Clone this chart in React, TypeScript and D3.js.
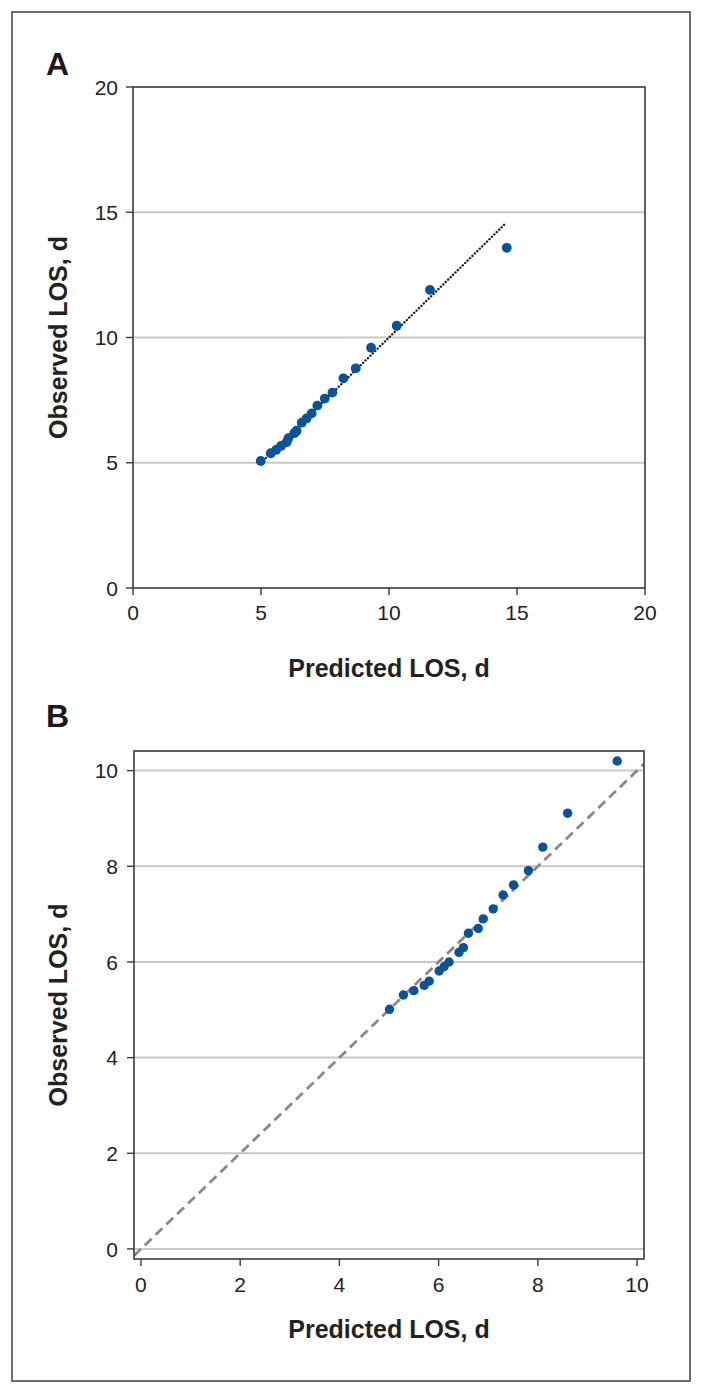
import React from "react";
import * as d3 from "d3";

// Panel A data
const predictedA = [4.99, 5.38, 5.59, 5.78, 6.0, 6.07, 6.3, 6.39, 6.59, 6.78, 6.98, 7.2, 7.49, 7.79, 8.22, 8.7, 9.3, 10.3, 11.6, 14.6];
const observedA = [5.07, 5.38, 5.51, 5.67, 5.82, 5.98, 6.18, 6.28, 6.6, 6.77, 6.97, 7.28, 7.56, 7.8, 8.37, 8.77, 9.59, 10.47, 11.9, 13.58];
const refLineA = [5.0, 14.5];
const ticksA = [0, 5, 10, 15, 20];

// Panel B data
const predictedB = [5.01, 5.29, 5.5, 5.71, 5.81, 6.01, 6.11, 6.21, 6.41, 6.5, 6.6, 6.8, 6.9, 7.1, 7.3, 7.51, 7.81, 8.1, 8.6, 9.6];
const observedB = [5.01, 5.31, 5.4, 5.51, 5.6, 5.81, 5.9, 6.0, 6.2, 6.3, 6.6, 6.7, 6.9, 7.11, 7.4, 7.61, 7.91, 8.4, 9.11, 10.2];
const ticksB = [0, 2, 4, 6, 8, 10];
const domainB = [-0.14, 10.14];
const domainBy = [-0.21, 10.41];

const xTitle = "Predicted LOS, d";
const yTitle = "Observed LOS, d";

const FONT = "'Liberation Sans', Arial, Helvetica, sans-serif";
const POINT = "#0a5299";
const GRID = "#c8c8c8";
const AXIS = "#3a3a3a";

export default function App() {
  const ax = d3.scaleLinear().domain([0, 20]).range([133, 645]);
  const ay = d3.scaleLinear().domain([0, 20]).range([588, 87]);
  const bx = d3.scaleLinear().domain(domainB).range([134, 644]);
  const by = d3.scaleLinear().domain(domainBy).range([1259, 751]);

  const lineA = d3.line<number>().x((d) => ax(d)).y((d) => ay(d));
  const lineB = d3.line<number>().x((d) => bx(d)).y((d) => by(d));

  const [ax0, ax1] = ax.range();
  const [ayB, ayT] = ay.range();
  const [bx0, bx1] = bx.range();
  const [byB, byT] = by.range();

  return (
    <svg
      width={703}
      height={1394}
      style={{ position: "absolute", left: 0, top: 0, background: "#fff" }}
      fontFamily={FONT}
    >
      <rect x={12} y={12} width={678} height={1369} fill="#fff" stroke="#4a4a4a" strokeWidth={1.6} />

      {/* Panel A */}
      <text x={46} y={75} fontSize={32} fontWeight="bold" fill="#1a1a1a">A</text>
      {ticksA.filter((t) => t > 0 && t < 20).map((t) => (
        <line key={"ga" + t} x1={ax0} x2={ax1} y1={ay(t)} y2={ay(t)} stroke={GRID} strokeWidth={2} />
      ))}
      <path d={lineA(refLineA) || ""} fill="none" stroke="#222" strokeWidth={2.4} strokeDasharray="0.1 3.3" strokeLinecap="round" />
      {predictedA.map((p, i) => (
        <circle key={"pa" + i} cx={ax(p)} cy={ay(observedA[i])} r={4.9} fill={POINT} />
      ))}
      <rect x={ax0} y={ayT} width={ax1 - ax0} height={ayB - ayT} fill="none" stroke={AXIS} strokeWidth={1.6} />
      {ticksA.map((t) => (
        <g key={"ya" + t}>
          <line x1={ax0 - 7} x2={ax0} y1={ay(t)} y2={ay(t)} stroke={AXIS} strokeWidth={1.4} />
          <text x={118} y={ay(t)} dy="0.36em" textAnchor="end" fontSize={21} fill="#222">{t}</text>
        </g>
      ))}
      {ticksA.map((t) => (
        <g key={"xa" + t}>
          <line x1={ax(t)} x2={ax(t)} y1={ayB} y2={ayB + 7} stroke={AXIS} strokeWidth={1.4} />
          <text x={ax(t)} y={620} textAnchor="middle" fontSize={21} fill="#222">{t}</text>
        </g>
      ))}
      <text x={(ax0 + ax1) / 2} y={676.5} textAnchor="middle" fontSize={25} fontWeight="bold" fill="#222">{xTitle}</text>
      <text transform={`translate(66.5,${(ayT + ayB) / 2}) rotate(-90)`} textAnchor="middle" fontSize={25} fontWeight="bold" fill="#222">{yTitle}</text>

      {/* Panel B */}
      <text x={46} y={727} fontSize={32} fontWeight="bold" fill="#1a1a1a">B</text>
      {ticksB.map((t) => (
        <line key={"gb" + t} x1={bx0} x2={bx1} y1={by(t)} y2={by(t)} stroke={GRID} strokeWidth={2} />
      ))}
      <defs>
        <clipPath id="clipB">
          <rect x={bx0} y={byT} width={bx1 - bx0} height={byB - byT} />
        </clipPath>
      </defs>
      <path d={lineB(domainB) || ""} fill="none" stroke="#888" strokeWidth={2.8} strokeDasharray="9.5 5.5" clipPath="url(#clipB)" />
      {predictedB.map((p, i) => (
        <circle key={"pb" + i} cx={bx(p)} cy={by(observedB[i])} r={4.7} fill={POINT} />
      ))}
      <rect x={bx0} y={byT} width={bx1 - bx0} height={byB - byT} fill="none" stroke={AXIS} strokeWidth={1.6} />
      {ticksB.map((t) => (
        <g key={"yb" + t}>
          <line x1={bx0 - 7} x2={bx0} y1={by(t)} y2={by(t)} stroke={AXIS} strokeWidth={1.4} />
          <text x={118} y={by(t)} dy="0.36em" textAnchor="end" fontSize={21} fill="#222">{t}</text>
        </g>
      ))}
      {ticksB.map((t) => (
        <g key={"xb" + t}>
          <line x1={bx(t)} x2={bx(t)} y1={byB} y2={byB + 7} stroke={AXIS} strokeWidth={1.4} />
          <text x={bx(t)} y={1292} textAnchor="middle" fontSize={21} fill="#222">{t}</text>
        </g>
      ))}
      <text x={(bx0 + bx1) / 2} y={1338} textAnchor="middle" fontSize={25} fontWeight="bold" fill="#222">{xTitle}</text>
      <text transform={`translate(66.5,${(byT + byB) / 2}) rotate(-90)`} textAnchor="middle" fontSize={25} fontWeight="bold" fill="#222">{yTitle}</text>
    </svg>
  );
}
